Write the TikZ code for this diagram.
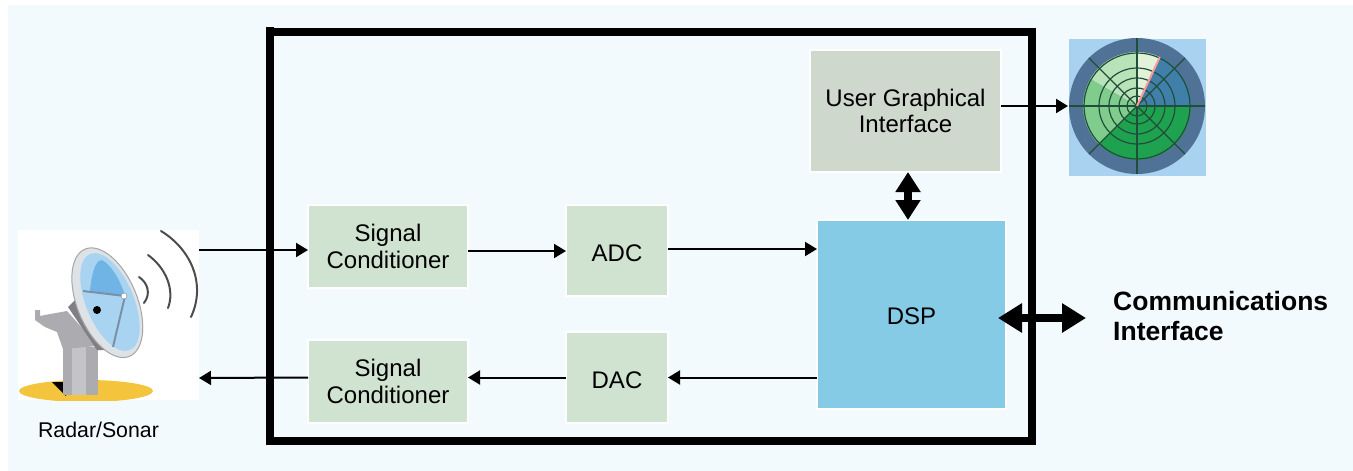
\documentclass[tikz,border=0pt]{standalone}
\usepackage{fontspec}
\setmainfont{Liberation Sans}
\usetikzlibrary{arrows.meta,calc}
\definecolor{bgc}{HTML}{F2FAFE}
\definecolor{greybox}{HTML}{CFD8CD}
\definecolor{greenbox}{HTML}{D0E3D0}
\definecolor{dspblue}{HTML}{85CBE6}
\definecolor{radarbg}{HTML}{A8D2F0}
\definecolor{radarring}{HTML}{4F7296}
\definecolor{radarpale}{HTML}{E2F2D8}
\definecolor{radarlight}{HTML}{B8E2B8}
\definecolor{radarmid}{HTML}{80CC8C}
\definecolor{radardark}{HTML}{1FA24F}
\definecolor{radarblue}{HTML}{3F7FAA}
\definecolor{radargrid}{HTML}{1F4F3A}
\definecolor{groundc}{HTML}{F4C53C}
\definecolor{dishrim}{HTML}{DDE2E6}
\definecolor{dishlight}{HTML}{A8D4F2}
\definecolor{dishdeep}{HTML}{6FB4E4}
\definecolor{strutc}{HTML}{7A8FA8}
\definecolor{metal}{HTML}{ABABB0}
\definecolor{metallight}{HTML}{C4C4C8}
\definecolor{metaldark}{HTML}{808084}
\tikzset{
  block/.style={rectangle,draw=white,line width=2pt,inner sep=0pt,outer sep=0pt,align=center,text=black,
    font=\fontsize{24}{26.5}\selectfont},
  thin arrow/.style={line width=2pt,-{Triangle[length=12pt,width=14pt]}},
  big vert/.style={line width=8pt,{Triangle[length=20pt,width=24pt]}-{Triangle[length=20pt,width=24pt]}},
  big horiz/.style={line width=8pt,{Triangle[length=24pt,width=28pt]}-{Triangle[length=24pt,width=28pt]}},
  wave/.style={line width=2pt,draw=black!70,line cap=round},
  gridline/.style={line width=1.2pt,draw=radargrid},
}
\begin{document}
\begin{tikzpicture}[x=1pt,y=-1pt]
\useasboundingbox (0,0) rectangle (1353,471);
\fill[bgc] (8,5) rectangle (1353,471);
% frame
\fill[black] (266,27) rectangle (274,445);
\fill[black] (266,28) rectangle (1036,36);
\fill[black] (1028,28) rectangle (1036,445);
\fill[black] (266,437) rectangle (1036,445);
% antenna picture
\fill[white] (18,230) rectangle (199,400);
\begin{scope}
\clip (18,230) rectangle (199,400);
\fill[groundc] (86,391) ellipse [x radius=67, y radius=11];
\fill[black] (52,382) -- (66,382) -- (66,396) -- cycle;
\fill[metal] (63,347) rectangle (98,395);
\fill[metallight] (72,347) rectangle (86,395);
\fill[metal] (35,310) -- (40,310) -- (40,316) -- (45,315) -- (67,311) -- (98,346) -- (63,349) -- (57,332) -- (45,327) -- (35,320) -- cycle;
\fill[metaldark] (68,307) -- (75,300) -- (105,350) -- (97,350) -- cycle;
\fill[dishrim,draw=gray!70,line width=1pt] (107.3,302.7) ellipse [x radius=58, y radius=30, rotate=-67.6];
\fill[dishlight] (110,302) ellipse [x radius=52, y radius=24, rotate=-67.6];
\fill[dishdeep] (90,291) .. controls (92,268) and (98,255) .. (105,262) .. controls (115,270) and (122,285) .. (125,296) -- cycle;
\draw[strutc,line width=2pt] (83,291) -- (125,296) -- (113,347);
\fill[white,draw=gray] (124,296) circle (3pt);
\fill[black] (97,310) circle (4pt);
\draw[wave] (139,277) .. controls (148,283) and (151,294) .. (144,303);
\draw[wave] (148,255) .. controls (166,268) and (175,290) .. (168,308);
\draw[wave] (161,231) .. controls (192,250) and (206,285) .. (191,317);
\end{scope}
\node[font=\fontsize{21.3}{24}\selectfont,anchor=center] (radarlabel) at (98.5,430) {Radar/Sonar};
\coordinate (antout) at (199,250);
\coordinate (antin) at (199,378);
% radar picture
\fill[radarbg] (1069,39) rectangle (1206,176);
\begin{scope}[shift={(1137,106)},y=1pt]
\fill[radarring] (0,0) circle (68);
\fill[radarpale] (0,0) -- (90:54) arc[start angle=90,end angle=65,radius=54] -- cycle;
\fill[radarlight] (0,0) -- (90:54) arc[start angle=90,end angle=150,radius=54] -- cycle;
\fill[radarmid] (0,0) -- (150:54) arc[start angle=150,end angle=225,radius=54] -- cycle;
\fill[radardark] (0,0) -- (225:54) arc[start angle=225,end angle=360,radius=54] -- cycle;
\fill[radarblue] (0,0) -- (65:54) arc[start angle=65,end angle=0,radius=54] -- cycle;
\foreach \r in {10,18,28,38,53} \draw[gridline] (0,0) circle (\r);
\foreach \a in {0,45,90,135} \draw[gridline] (\a:-68) -- (\a:68);
\draw[red!40!white,line width=2pt] (0,0) -- (65:54);
\end{scope}
\coordinate (radarin) at (1068,106);
% blocks
\node[block,fill=greybox,minimum width=191pt,minimum height=122pt] (ugi) at (905.5,111) {User Graphical\\Interface};
\node[block,fill=greenbox,minimum width=160pt,minimum height=83pt] (sc1) at (388,246.5) {Signal\\Conditioner};
\node[block,fill=greenbox,minimum width=102pt,minimum height=91pt] (adc) at (617,250.5) {\rule{0pt}{23pt}ADC};
\node[block,fill=greenbox,minimum width=160pt,minimum height=83pt] (sc2) at (388,381.5) {Signal\\Conditioner};
\node[block,fill=greenbox,minimum width=102pt,minimum height=91pt] (dac) at (617,377.5) {\rule{0pt}{23pt}DAC};
\node[block,fill=dspblue,minimum width=189pt,minimum height=189pt] (dsp) at (911.5,314.5) {\rule{0pt}{21pt}DSP};
% connectors
\draw[thin arrow] (antout) -- (sc1.west |- antout);
\draw[thin arrow] ([yshift=-4.5pt]sc1.east) -- ([yshift=-4.5pt]sc1.east -| adc.west);
\draw[thin arrow] ([yshift=1.5pt]adc.east) -- ([yshift=1.5pt]adc.east -| dsp.west);
\draw[thin arrow] (dsp.west |- dac.east) -- (dac.east);
\draw[thin arrow] (dac.west) -- (dac.west -| sc2.east);
\draw[thin arrow] (sc2.west |- dac.west) -- (antin);
\draw[thin arrow] (ugi.east |- radarin) -- (radarin);
\coordinate (ugibot) at (908,172);
\coordinate (dsptop) at (908,220);
\draw[big vert] (ugibot) -- (dsptop);
\coordinate (dspcomm) at (998,318);
\coordinate (commend) at (1086,318);
\draw[big horiz] (dspcomm) -- (commend);
\node[anchor=west,align=left,font=\fontsize{26.5}{30}\bfseries\selectfont,inner sep=0pt] (comm) at (1113,316) {Communications\\Interface};
\end{tikzpicture}
\end{document}
